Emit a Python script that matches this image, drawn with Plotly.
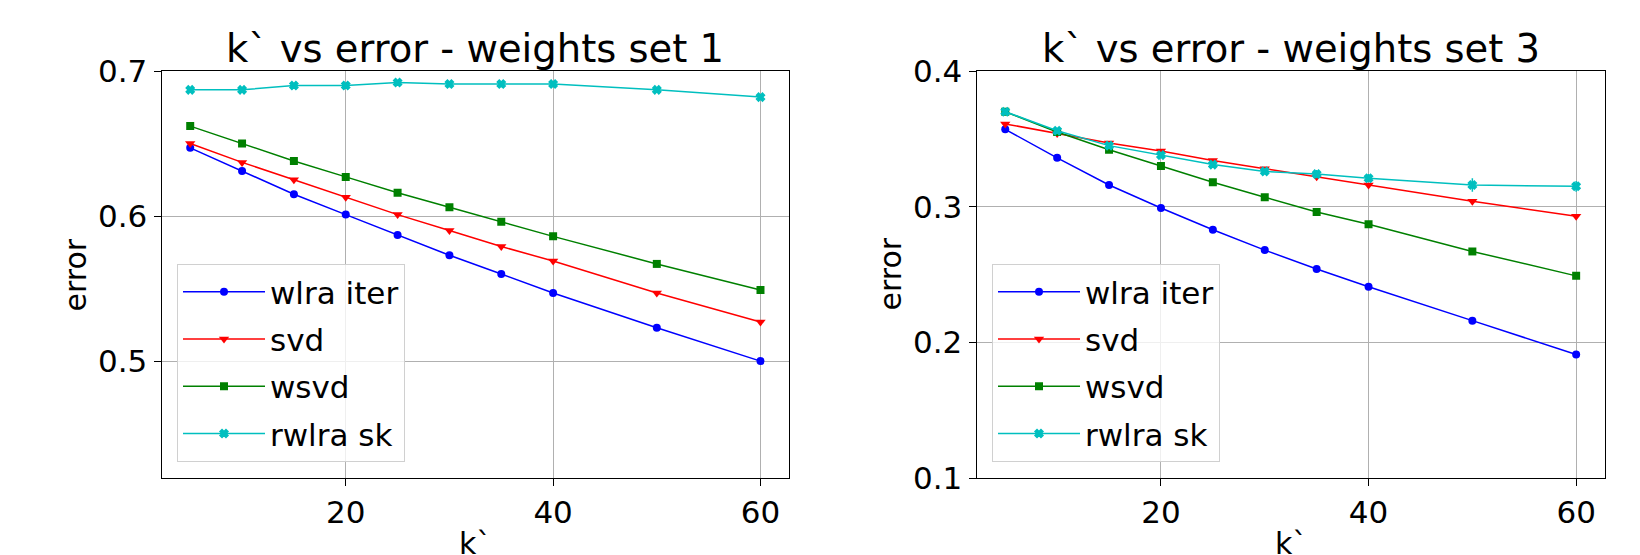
import plotly.graph_objects as go

k_values = [5, 10, 15, 20, 25, 30, 35, 40, 50, 60]
series_names = ["wlra iter", "svd", "wsvd", "rwlra sk"]

# weights set 1
set1_wlra = [0.647, 0.631, 0.615, 0.601, 0.587, 0.573, 0.560, 0.547, 0.523, 0.500]
set1_svd = [0.650, 0.637, 0.625, 0.613, 0.601, 0.590, 0.579, 0.569, 0.547, 0.527]
set1_wsvd = [0.662, 0.650, 0.638, 0.627, 0.616, 0.606, 0.596, 0.586, 0.567, 0.549]
set1_rwlra = [0.687, 0.687, 0.690, 0.690, 0.692, 0.691, 0.691, 0.691, 0.687, 0.682]
set1_err = [0.001, 0.001, 0.001, 0.001, 0.001, 0.001, 0.001, 0.001, 0.001, 0.001]

# weights set 3
set3_wlra = [0.357, 0.336, 0.316, 0.299, 0.283, 0.268, 0.254, 0.241, 0.216, 0.191]
set3_svd = [0.361, 0.354, 0.347, 0.341, 0.334, 0.328, 0.322, 0.316, 0.304, 0.293]
set3_wsvd = [0.370, 0.355, 0.342, 0.330, 0.318, 0.307, 0.296, 0.287, 0.267, 0.249]
set3_rwlra = [0.370, 0.356, 0.345, 0.338, 0.331, 0.326, 0.324, 0.321, 0.316, 0.315]
set3_err = [0.001, 0.001, 0.001, 0.001, 0.001, 0.001, 0.001, 0.001, 0.001, 0.001]
set3_rwlra_err = [0.002, 0.002, 0.002, 0.002, 0.002, 0.002, 0.003, 0.003, 0.005, 0.004]

titles = ["k` vs error - weights set 1", "k` vs error - weights set 3"]
y_ticks_1 = [0.5, 0.6, 0.7]
y_ticks_3 = [0.1, 0.2, 0.3, 0.4]
x_ticks = [20, 40, 60]

colors = ["#0000ff", "#ff0000", "#008000", "#00bfbf"]
symbols = ["circle", "triangle-down", "square", "x"]
msizes = [8, 9, 8, 7]

W, H = 1640, 555
OFF = 8  # page body margin
FONT = "DejaVu Sans"

fig = go.Figure()

panels = [
    ([set1_wlra, set1_svd, set1_wsvd, set1_rwlra], [set1_err, set1_err, set1_err, set1_err], "x", "y", "legend"),
    ([set3_wlra, set3_svd, set3_wsvd, set3_rwlra], [set3_err, set3_err, set3_err, set3_rwlra_err], "x2", "y2", "legend2"),
]

for pi, (vals, errs, xa, ya, lg) in enumerate(panels):
    for i, name in enumerate(series_names):
        fig.add_trace(go.Scatter(
            x=k_values, y=vals[i], name=name, mode="lines+markers",
            xaxis=xa, yaxis=ya, legend=lg, legendgroup=f"{pi}-{i}",
            line=dict(color=colors[i], width=1.5),
            marker=dict(color=colors[i], symbol=symbols[i], size=msizes[i],
                        line=dict(color=colors[i], width=1.5 if symbols[i] == "x" else 0)),
            error_y=dict(type="data", array=errs[i], color=colors[i], thickness=1.5, width=0),
        ))

# pixel geometry (screen coordinates)
L1, R1 = 161.7, 789.0
L2, R2 = 976.7, 1604.7
T, B = 71.0, 478.0

def px(x):
    return (x - OFF) / W

def py(y):
    return 1 - (y - OFF) / H

axis_common = dict(
    showline=True, mirror=True, linecolor="black", linewidth=1.3,
    ticks="outside", ticklen=7, tickwidth=1.3, tickcolor="black",
    showgrid=True, gridcolor="#b0b0b0", gridwidth=1,
    zeroline=False, automargin=False,
    tickfont=dict(family=FONT, size=31, color="black"),
)

legend_common = dict(
    xanchor="left", yanchor="bottom",
    bgcolor="rgba(255,255,255,0.8)", bordercolor="#d0d0d0", borderwidth=1,
    font=dict(family=FONT, size=31, color="black"), tracegroupgap=4,
    itemwidth=82,
)

fig.update_layout(
    width=W, height=H,
    margin=dict(l=0, r=0, t=0, b=0, autoexpand=False),
    paper_bgcolor="white", plot_bgcolor="white",
    font=dict(family=FONT, color="black"),
    xaxis=dict(domain=[px(L1), px(R1)], range=[2.25, 62.75], tickvals=x_ticks,
               anchor="y", **axis_common),
    yaxis=dict(domain=[py(B), py(T)], range=[0.4194, 0.7], tickvals=y_ticks_1,
               anchor="x", **axis_common),
    xaxis2=dict(domain=[px(L2), px(R2)], range=[2.25, 62.75], tickvals=x_ticks,
                anchor="y2", **axis_common),
    yaxis2=dict(domain=[py(B), py(T)], range=[0.1, 0.4], tickvals=y_ticks_3,
                anchor="x2", **axis_common),
    legend=dict(x=px(177), y=py(462), **legend_common),
    legend2=dict(x=px(L2 + 15.3), y=py(462), **legend_common),
    showlegend=True,
)

ann = []
for (L, R), t in zip([(L1, R1), (L2, R2)], titles):
    cx = (L + R) / 2
    ann.append(dict(text=t, x=px(cx), y=py(T + 2), xref="paper", yref="paper",
                    xanchor="center", yanchor="bottom", showarrow=False,
                    font=dict(family=FONT, size=38.5, color="black")))
    ann.append(dict(text="k`", x=px(cx), y=py(524), xref="paper", yref="paper",
                    xanchor="center", yanchor="top", showarrow=False,
                    font=dict(family=FONT, size=30, color="black")))
    ann.append(dict(text="error", x=px(L - 86.7), y=py((T + B) / 2), xref="paper", yref="paper",
                    xanchor="center", yanchor="middle", showarrow=False, textangle=-90,
                    font=dict(family=FONT, size=30, color="black")))
fig.update_layout(annotations=ann)

fig.write_html("out.html")
